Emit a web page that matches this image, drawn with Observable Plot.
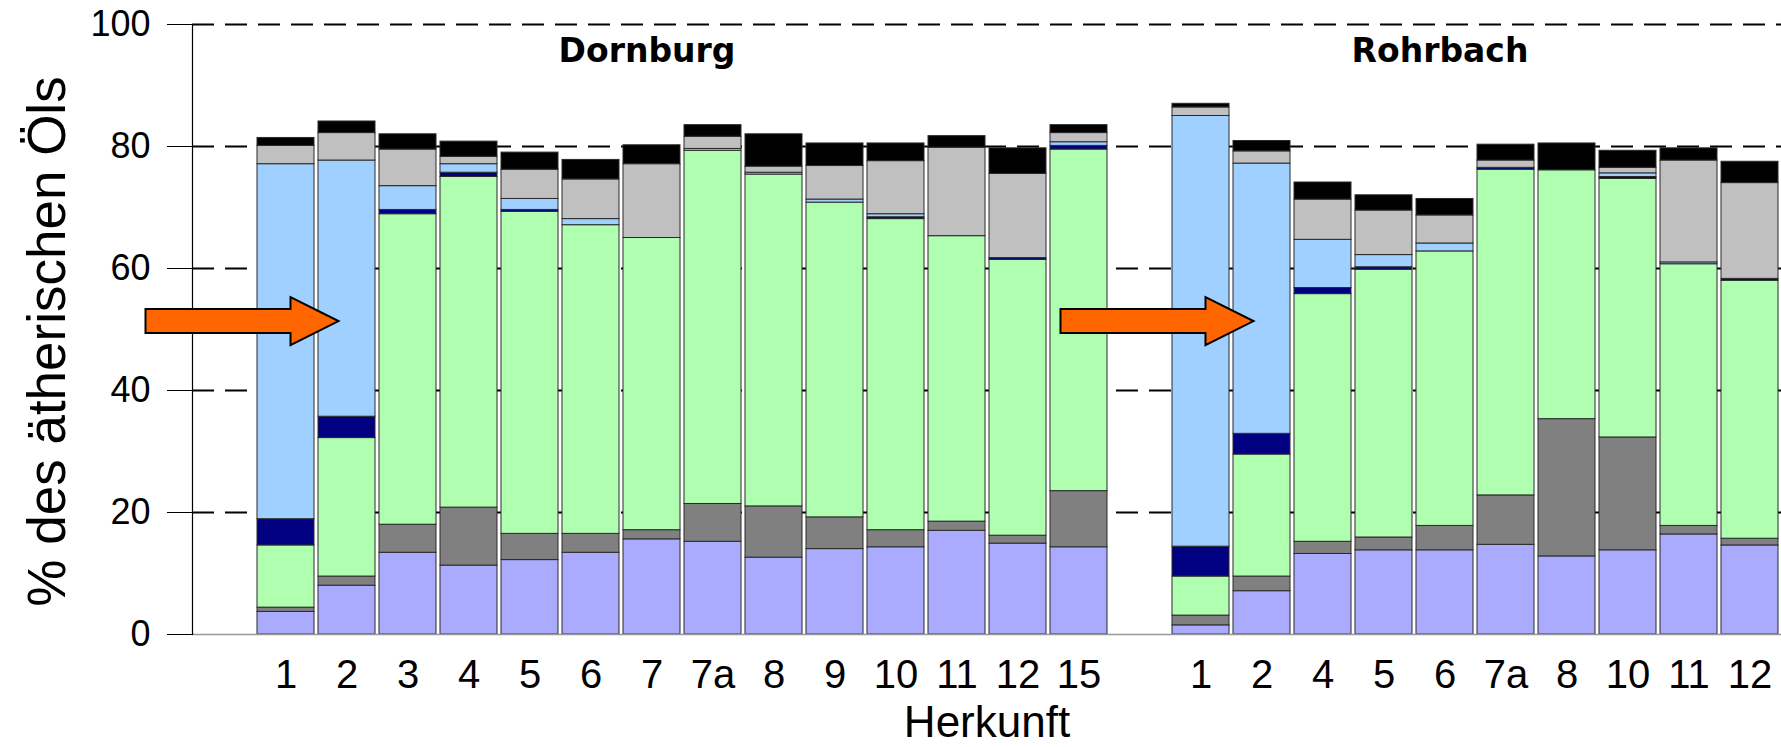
<!DOCTYPE html>
<html>
<head>
<meta charset="utf-8">
<script src="https://cdn.jsdelivr.net/npm/d3@7"></script>
<script src="https://cdn.jsdelivr.net/npm/@observablehq/plot@0.6"></script>
<style>
  html, body { margin: 0; padding: 0; background: #fff; }
</style>
</head>
<body>
<div id="chart"></div>
<script>
// ---- Data ----
const dornburgLabels = ["1","2","3","4","5","6","7","7a","8","9","10","11","12","15"];
const rohrbachLabels = ["1","2","4","5","6","7a","8","10","11","12"];
const groupTitles = ["Dornburg", "Rohrbach"];

const seriesNames = ["Lavendel", "Dunkelgrau", "Grün", "Dunkelblau", "Hellblau", "Hellgrau", "Schwarz"];
const seriesColors = ["#aaaaff", "#808080", "#b0ffb0", "#000080", "#a0d0ff", "#c0c0c0", "#000000"];

// values: 14 Dornburg bars followed by 10 Rohrbach bars
const lavender  = [3.7, 8.0, 13.4, 11.3, 12.2, 13.4, 15.6, 15.2, 12.6, 14.0, 14.3, 17.0, 14.9, 14.3,
                   1.5, 7.1, 13.2, 13.8, 13.8, 14.7, 12.8, 13.8, 16.4, 14.6];
const darkGray  = [0.7, 1.5, 4.6, 9.5, 4.3, 3.1, 1.5, 6.2, 8.4, 5.2, 2.8, 1.5, 1.3, 9.2,
                   1.6, 2.4, 2.0, 2.1, 4.0, 8.1, 22.5, 18.5, 1.4, 1.1];
const green     = [10.2, 22.7, 50.9, 54.2, 52.8, 50.6, 47.9, 57.9, 54.4, 51.6, 51.0, 46.8, 45.2, 56.0,
                   6.4, 20.0, 40.6, 43.9, 45.0, 53.4, 40.8, 42.4, 42.9, 42.3];
const navy      = [4.3, 3.5, 0.7, 0.7, 0.3, 0, 0, 0, 0, 0, 0.3, 0, 0.3, 0.6,
                   4.9, 3.4, 1.0, 0.4, 0, 0.3, 0, 0.3, 0, 0.3];
const lightBlue = [58.2, 42.0, 3.9, 1.4, 1.8, 1.0, 0, 0.3, 0.3, 0.5, 0.5, 0, 0, 0.6,
                   70.6, 44.3, 7.9, 2.0, 1.3, 0, 0, 0.6, 0.3, 0];
const lightGray = [3.0, 4.5, 6.0, 1.2, 4.8, 6.5, 12.1, 2.0, 1.0, 5.5, 8.7, 14.5, 13.8, 1.5,
                   1.4, 2.0, 6.6, 7.3, 4.6, 1.2, 0, 0.9, 16.7, 15.7];
const black     = [1.3, 1.9, 2.5, 2.5, 2.8, 3.2, 3.1, 1.9, 5.3, 3.7, 2.9, 1.9, 4.2, 1.3,
                   0.6, 1.7, 2.8, 2.5, 2.7, 2.6, 4.4, 2.8, 2.0, 3.5];

const yTicks = [0, 20, 40, 60, 80, 100];
const gridValues = [20, 40, 60, 80, 100];
const arrowTargets = ["D2", "R2"];
const arrowLevel = 51.3;

// ---- Build table ----
const dKeys = dornburgLabels.map(l => "D" + l);
const rKeys = rohrbachLabels.map(l => "R" + l);
const barKeys = [...dKeys, ...rKeys];
const xDomain = ["gapA", ...dKeys, "gapB", ...rKeys];
const labelOf = k => (k.startsWith("gap") ? "" : k.slice(1));
const seriesValues = [lavender, darkGray, green, navy, lightBlue, lightGray, black];
const rows = [];
barKeys.forEach((key, i) => {
  seriesNames.forEach((s, j) => rows.push({key, series: s, value: seriesValues[j][i]}));
});

const narrow = "'Liberation Sans Narrow', 'Arial Narrow', 'Liberation Sans', Arial, sans-serif";

const plot = Plot.plot({
  width: 1781,
  height: 747,
  marginLeft: 192,
  marginRight: 0,
  marginTop: 24,
  marginBottom: 113,
  style: {fontFamily: "'Liberation Sans', Arial, sans-serif", background: "#fff", color: "#000"},
  x: {type: "band", domain: xDomain, paddingInner: 0.067, paddingOuter: 0.0335, axis: null},
  y: {domain: [0, 100], axis: null},
  color: {domain: seriesNames, range: seriesColors},
  marks: [
    Plot.ruleY(gridValues, {stroke: "#000", strokeWidth: 2.2, strokeDasharray: "22,11"}),
    Plot.barY(rows, {x: "key", y: "value", fill: "series", order: seriesNames,
                     stroke: "#2a2a2a", strokeWidth: 1}),
    Plot.ruleY([0], {stroke: "#999", strokeWidth: 1.5}),
    Plot.frame({anchor: "left", stroke: "#000", strokeWidth: 1.2}),
    Plot.axisY({ticks: yTicks, tickSize: 25, tickPadding: 17, fontSize: 36, label: null,
                stroke: "#000"}),
    Plot.axisX({tickSize: 0, tickPadding: 25, fontSize: 40, fontFamily: narrow, label: null,
                tickFormat: labelOf}),
    Plot.text(["Herkunft"], {frameAnchor: "bottom", dy: 88, fontSize: 44, fontFamily: narrow,
                             lineAnchor: "middle", text: d => d}),
    Plot.text(["% des ätherischen Öls"], {frameAnchor: "left", dx: -144, dy: 12, rotate: -90,
                             fontSize: 53, lineAnchor: "middle", textAnchor: "middle", text: d => d}),
    Plot.text(groupTitles, {x: ["D7", "R6"], frameAnchor: "top", dy: 27, dx: -5, text: d => d,
                            fontSize: 33, fontWeight: "bold", lineAnchor: "middle",
                            fontFamily: "'DejaVu Sans', Verdana, sans-serif"})
  ]
});

// block arrows (annotation), positioned through the plot's scales
const xs = plot.scale("x"), ys = plot.scale("y");
const svg = d3.select(plot);
arrowTargets.forEach(k => {
  const tx = xs.apply(k) + xs.bandwidth / 2 - 8;
  const ty = ys.apply(arrowLevel);
  const L = 193, H = 48, h = 12, hh = 24;
  const d = `M${tx - L},${ty - h}L${tx - H},${ty - h}L${tx - H},${ty - hh}L${tx},${ty}` +
            `L${tx - H},${ty + hh}L${tx - H},${ty + h}L${tx - L},${ty + h}Z`;
  svg.append("path").attr("d", d).attr("fill", "#ff6600").attr("stroke", "#000")
     .attr("stroke-width", 2).attr("stroke-linejoin", "miter");
});

document.getElementById("chart").appendChild(plot);
</script>
</body>
</html>
